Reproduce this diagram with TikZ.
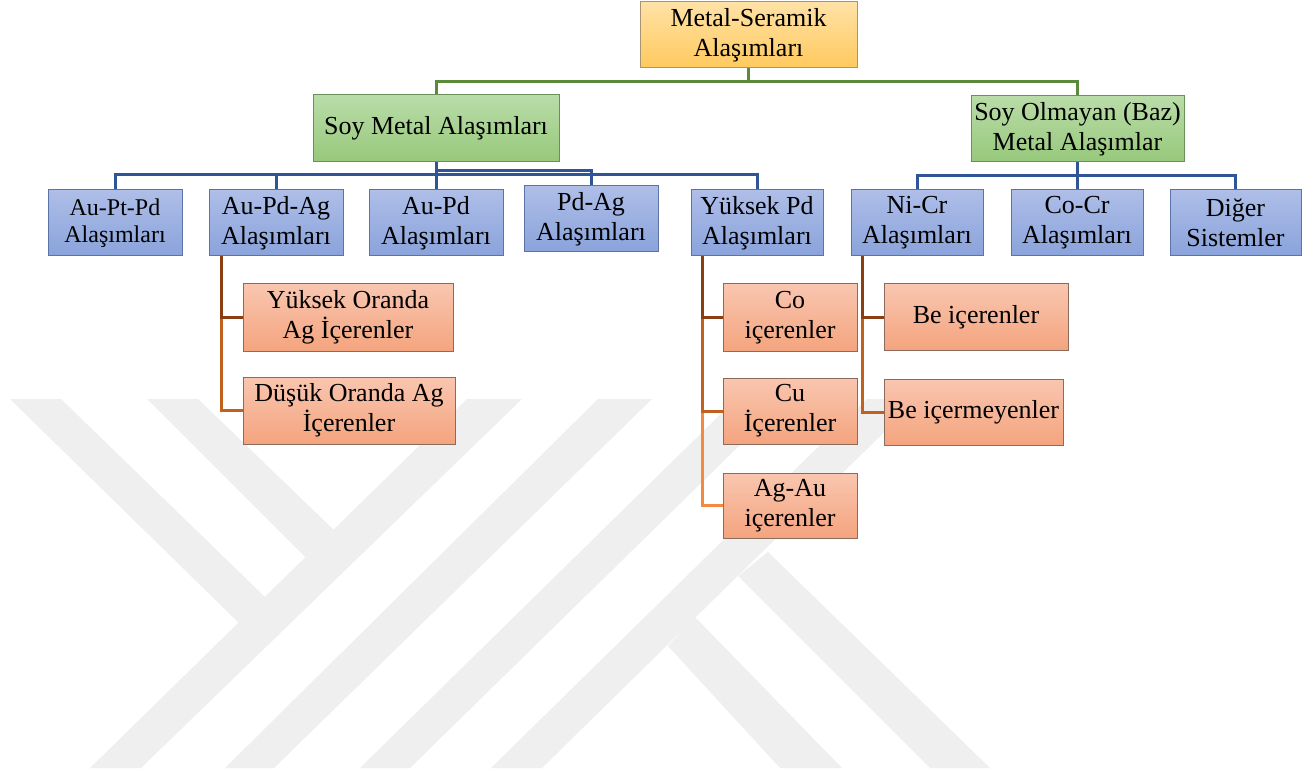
\documentclass[tikz,border=0pt]{standalone}
\usepackage{fontspec}
\setmainfont{Liberation Serif}
\definecolor{wm}{RGB}{239,239,239}
\definecolor{goldT}{HTML}{FFE2A6}
\definecolor{goldD}{HTML}{FFC95E}
\definecolor{goldB}{HTML}{A89470}
\definecolor{grnT}{HTML}{B9DCA8}
\definecolor{grnD}{HTML}{97C87B}
\definecolor{grnB}{HTML}{6A8F58}
\definecolor{bluT}{HTML}{AEBEE8}
\definecolor{bluD}{HTML}{8AA3DB}
\definecolor{bluB}{HTML}{5B73A6}
\definecolor{orT}{HTML}{F9C6B0}
\definecolor{orD}{HTML}{F4A47E}
\definecolor{orB}{HTML}{8C6A5C}
\definecolor{gLine}{HTML}{5A8A3A}
\definecolor{bLine}{HTML}{2F5597}
\definecolor{brA}{HTML}{8B3E12}
\definecolor{brB}{HTML}{C0621E}
\definecolor{brC}{HTML}{F28B3F}
\pgfdeclarelayer{wmlayer}
\pgfdeclarelayer{conn}
\pgfsetlayers{wmlayer,conn,main}
\begin{document}
\begin{tikzpicture}[x=1pt,y=-1pt,
  bx/.style={rectangle, inner sep=0pt, align=center, line width=1pt,
    font=\fontsize{26}{30}\selectfont},
  goldbox/.style={bx, draw=goldB, top color=goldT, bottom color=goldD},
  grnbox/.style={bx, draw=grnB, top color=grnT, bottom color=grnD},
  blubox/.style={bx, draw=bluB, top color=bluT, bottom color=bluD,
    minimum width=133pt, minimum height=66pt},
  orbox/.style={bx, draw=orB, top color=orT, bottom color=orD},
  gconn/.style={draw=gLine, line width=3pt},
  bconn/.style={draw=bLine, line width=3pt},
  cA/.style={draw=brA, line width=3pt},
  cB/.style={draw=brB, line width=3pt},
  cC/.style={draw=brC, line width=3pt}]
\useasboundingbox (0,0) rectangle (1302,770);
\begin{pgfonlayer}{wmlayer}
\fill[white] (0,0) rectangle (1302,770);
\fill[wm] (467,399) -- (522,399) -- (141,768) -- (90,768) -- cycle;
\fill[wm] (598,399) -- (652,399) -- (274,768) -- (225,768) -- cycle;
\fill[wm] (736,399) -- (787,399) -- (410,768) -- (360,768) -- cycle;
\fill[wm] (867,399) -- (918,399) -- (542,768) -- (491,768) -- cycle;
\fill[wm] (10,399) -- (61,399) -- (265,597) -- (242,626) -- cycle;
\fill[wm] (147,399) -- (198,399) -- (337,533) -- (308,560) -- cycle;
\fill[wm] (768,552) -- (990,768) -- (930,768) -- (738,576) -- cycle;
\fill[wm] (695,617) -- (842,768) -- (780,768) -- (668,646) -- cycle;
\end{pgfonlayer}
% nodes
\node[goldbox, minimum width=217pt, minimum height=66pt] (top) at (748.5,35) {Metal-Seramik\\Alaşımları};
\node[grnbox, minimum width=246pt, minimum height=67pt] (soy) at (436,128.5) {Soy Metal Alaşımları};
\node[grnbox, minimum width=213pt, minimum height=66pt] (baz) at (1077.5,129) {Soy Olmayan (Baz)\\Metal Alaşımlar};
\node[blubox, minimum width=134pt, font=\fontsize{24}{27}\selectfont] (aupt) at (115,223) {Au-Pt-Pd\\Alaşımları};
\node[blubox, minimum width=134pt] (aupdag) at (276,223) {Au-Pd-Ag\\Alaşımları};
\node[blubox, minimum width=134pt] (aupd) at (436,223) {Au-Pd\\Alaşımları};
\node[blubox, minimum width=134pt] (pdag) at (591,219) {Pd-Ag\\Alaşımları};
\node[blubox, minimum width=132pt] (yukpd) at (757,223) {Yüksek Pd\\Alaşımları};
\node[blubox, minimum width=132pt] (nicr) at (917,223) {Ni-Cr\\Alaşımları};
\node[blubox, minimum width=132pt] (cocr) at (1077,223) {Co-Cr\\Alaşımları};
\node[blubox, minimum width=131pt] (diger) at (1235.5,223) {Diğer\\Sistemler};
\node[orbox, minimum width=210pt, minimum height=67pt] (yukag) at (348,317.5) {Yüksek Oranda\\Ag İçerenler};
\node[orbox, minimum width=212pt, minimum height=67pt] (dusag) at (349,410.5) {Düşük Oranda Ag\\İçerenler};
\node[orbox, minimum width=134pt, minimum height=67pt] (co) at (790,317.5) {Co\\içerenler};
\node[orbox, minimum width=134pt, minimum height=66pt] (cu) at (790,411) {Cu\\İçerenler};
\node[orbox, minimum width=134pt, minimum height=65pt] (agau) at (790,505.5) {Ag-Au\\içerenler};
\node[orbox, minimum width=184pt, minimum height=66pt] (bei) at (976,317) {Be içerenler};
\node[orbox, minimum width=179pt, minimum height=66pt] (beim) at (973.5,412) {Be içermeyenler};
% bar coordinates
\coordinate (gbar) at (0,82);
\coordinate (bbar) at (0,175);
\coordinate (bbar2) at (0,171);
\coordinate (rbar) at (0,176);
\coordinate (s1) at ([xshift=13pt]aupdag.south west);
\coordinate (s2) at ([xshift=12pt]yukpd.south west);
\coordinate (s3) at ([xshift=12pt]nicr.south west);
\begin{pgfonlayer}{conn}
\draw[gconn] (top.south) -- (top.south |- gbar) -| (soy.north);
\draw[gconn] (top.south |- gbar) -| (baz.north);
\draw[bconn] (soy.south) -- (soy.south |- bbar) -| (aupt.north);
\draw[bconn] (soy.south |- bbar) -| (aupdag.north);
\draw[bconn] (soy.south) -- (aupd.north);
\draw[bconn] (soy.south |- bbar) -| (yukpd.north);
\draw[bconn] (soy.south |- bbar2) -| (pdag.north);
\draw[bconn] (cocr.north |- baz.south) -- (cocr.north |- rbar) -| (nicr.north);
\draw[bconn] (cocr.north |- rbar) -| (diger.north);
\draw[bconn] (cocr.north |- baz.south) -- (cocr.north);
\draw[cB] (s1) |- (dusag.west);
\draw[cA] (s1) |- (yukag.west);
\draw[cC] (s2) |- (agau.west);
\draw[cB] (s2) |- (cu.west);
\draw[cA] (s2) |- (co.west);
\draw[cB] (s3) |- (beim.west);
\draw[cA] (s3) |- (bei.west);
\end{pgfonlayer}
\end{tikzpicture}
\end{document}
